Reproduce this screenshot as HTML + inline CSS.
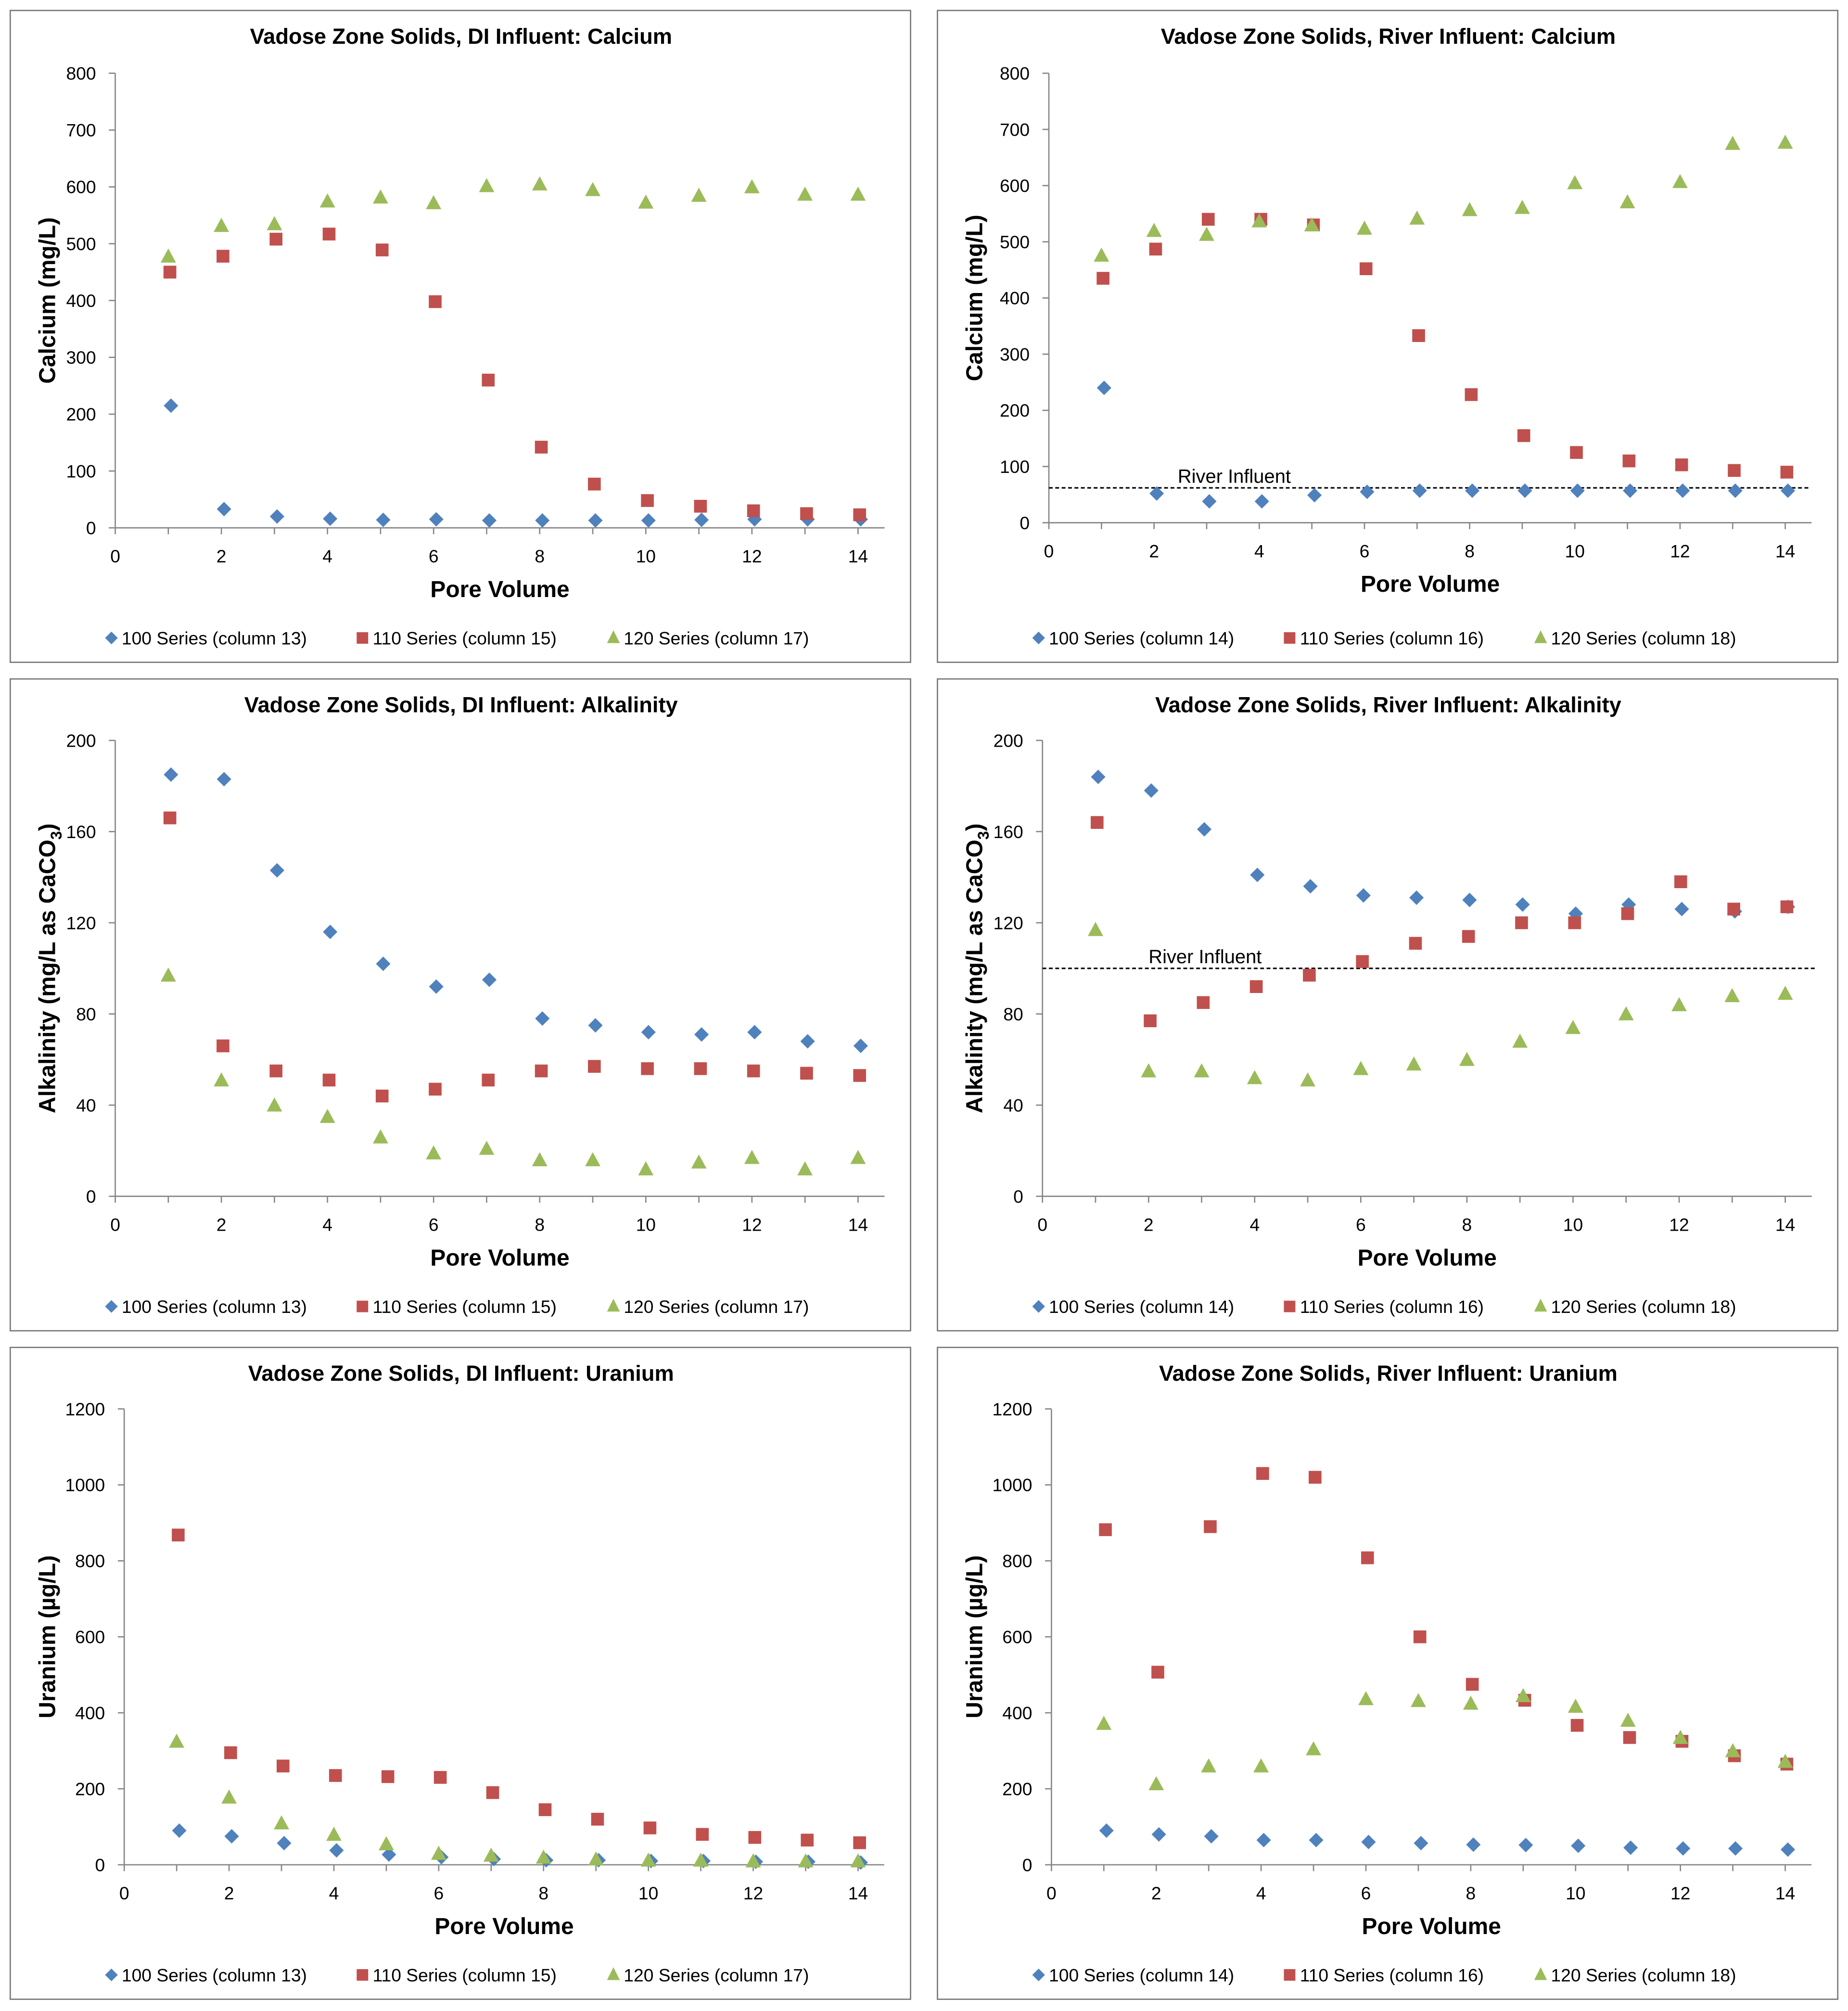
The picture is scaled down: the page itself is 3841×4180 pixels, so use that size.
<!DOCTYPE html>
<html><head><meta charset="utf-8"><style>
html,body{margin:0;padding:0;background:#fff}
svg{display:block}
text{font-family:"Liberation Sans",sans-serif;fill:#000}
</style></head><body>
<svg id="fig" width="3841" height="4180" viewBox="0 0 1443 1570" xmlns="http://www.w3.org/2000/svg"></svg>
<script>
const pv = [1,2,3,4,5,6,7,8,9,10,11,12,13,14];
const xTicks = [0,2,4,6,8,10,12,14];
const ca_di_100 = [215,33,20,16,14,15,13,13,13,13,14,15,15,15];
const ca_di_110 = [450,478,508,517,489,398,260,142,77,48,38,30,25,23];
const ca_di_120 = [478,532,535,575,582,572,602,605,595,573,585,600,587,587];
const ca_rv_100 = [240,52,38,38,49,55,57,57,57,57,57,57,57,57];
const ca_rv_110 = [435,487,540,540,530,452,333,228,155,125,110,103,93,90];
const ca_rv_120 = [476,520,513,537,530,524,542,557,561,605,571,607,675,677];
const al_di_100 = [185,183,143,116,102,92,95,78,75,72,71,72,68,66];
const al_di_110 = [166,66,55,51,44,47,51,55,57,56,56,55,54,53];
const al_di_120 = [97,51,40,35,26,19,21,16,16,12,15,17,12,17];
const al_rv_100 = [184,178,161,141,136,132,131,130,128,124,128,126,125,127];
const al_rv_110 = [164,77,85,92,97,103,111,114,120,120,124,138,126,127];
const al_rv_120 = [117,55,55,52,51,56,58,60,68,74,80,84,88,89];
const u_di_100 = [90,75,57,38,27,20,15,12,12,10,10,8,8,6];
const u_di_110 = [868,295,260,235,232,230,190,145,120,97,80,72,65,58];
const u_di_120 = [325,178,110,80,55,30,25,20,15,12,12,10,10,10];
const u_rv_100 = [90,80,75,65,65,60,57,53,52,50,45,43,43,40];
const u_rv_110 = [882,507,890,1030,1020,808,600,475,433,367,335,325,287,265];
const u_rv_120 = [372,213,260,260,305,437,432,425,445,417,380,335,300,272];
const caTicks = [0,100,200,300,400,500,600,700,800];
const alTicks = [0,40,80,120,160,200];
const uTicks = [0,200,400,600,800,1000,1200];
const caRiver = 62;
const alRiver = 100;

const NS = "http://www.w3.org/2000/svg";
const svg = document.getElementById('fig');
function el(tag, attrs, parent, txt){
  const e = document.createElementNS(NS, tag);
  for (const k in attrs) e.setAttribute(k, attrs[k]);
  if (txt !== undefined) e.textContent = txt;
  (parent || svg).appendChild(e);
  return e;
}
const COL = ['#4F81BD','#C0504D','#9BBB59'];

function chart(cfg){
  const g = el('g', {});
  
  
  const bx = el('rect', {x:cfg.px, y:cfg.py, width:703, height:509, fill:'#fff', stroke:'#777', 'stroke-width':1}, g);
  
  
  const X = v => cfg.x0 + (v/14)*(cfg.x14 - cfg.x0);
  const Y = v => cfg.y0 - (v/cfg.ymax)*(cfg.y0 - cfg.ytop);
  const t = el('text', {x:cfg.px+352, y:cfg.py+26, 'text-anchor':'middle', 'font-size':17, 'font-weight':'bold'}, g, cfg.title);
  
  
  const xr = X(14.5);
  const ya = el('line', {x1:cfg.x0, y1:cfg.ytop, x2:cfg.x0, y2:cfg.y0, stroke:'#868686', 'stroke-width':1}, g);
  
  
  const xa = el('line', {x1:cfg.x0, y1:cfg.y0, x2:xr, y2:cfg.y0, stroke:'#868686', 'stroke-width':1}, g);
  
  
  cfg.yticks.forEach(v => {
    el('line', {x1:cfg.x0-5, y1:Y(v), x2:cfg.x0, y2:Y(v), stroke:'#868686'}, g);
    const tl = el('text', {x:cfg.x0-15, y:Y(v)+5, 'text-anchor':'end', 'font-size':14}, g, v);
    
    
  });
  for (let v = 0; v <= 14.5; v += 1) el('line', {x1:X(v), y1:cfg.y0, x2:X(v), y2:cfg.y0+5, stroke:'#868686'}, g);
  xTicks.forEach(v => {
    const tl = el('text', {x:X(v), y:cfg.y0+27, 'text-anchor':'middle', 'font-size':14}, g, v);
    
    
  });
  const xt = el('text', {x:(cfg.x0+xr)/2, y:cfg.y0+54, 'text-anchor':'middle', 'font-size':18, 'font-weight':'bold'}, g, 'Pore Volume');
  
  
  const cy = (cfg.ytop+cfg.y0)/2;
  const tx = cfg.px+35;
  const yt = el('text', {x:tx, y:cy, 'text-anchor':'middle', 'font-size':18, 'font-weight':'bold', transform:`rotate(-90 ${tx} ${cy})`}, g);
  
  
  if (cfg.alk) {
    el('tspan', {}, yt, 'Alkalinity (mg/L as CaCO');
    el('tspan', {'font-size':12, dy:5}, yt, '3');
    el('tspan', {dy:-5}, yt, ')');
  } else yt.textContent = cfg.ytitle;
  if (cfg.river !== undefined) {
    const rl = el('line', {x1:cfg.x0, y1:Y(cfg.river), x2:cfg.riverEnd, y2:Y(cfg.river), stroke:'#000', 'stroke-width':1.2, 'stroke-dasharray':'3,2'}, g);
    
    
    const rt = el('text', {x:X(cfg.riverLabelX), y:Y(cfg.river)-4, 'font-size':15}, g, 'River Influent');
    
    
  }
  const offs = [0.05, 0.03, 0];
  cfg.series.forEach((s, si) => {
    s.forEach((v, i) => {
      const cx = X(pv[i] + offs[si]), cyy = Y(v);
      let m;
      if (si === 0) m = el('rect', {x:cx-4, y:cyy-4, width:8, height:8, fill:COL[0], transform:`rotate(45 ${cx} ${cyy})`}, g);
      else if (si === 1) m = el('rect', {x:cx-5, y:cyy-5, width:10, height:10, fill:COL[1]}, g);
      else m = el('polygon', {points:`${cx},${cyy-6} ${cx+6},${cyy+5} ${cx-6},${cyy+5}`, fill:COL[2]}, g);
      
      
    });
  });
  const ly = cfg.py + 495;
  const lx = [cfg.px+79, cfg.px+275, cfg.px+471];
  cfg.legend.forEach((lab, si) => {
    const cx = lx[si];
    let m;
    if (si === 0) m = el('rect', {x:cx-3.5, y:ly-8.5, width:7, height:7, fill:COL[0], transform:`rotate(45 ${cx} ${ly-5})`}, g);
    else if (si === 1) m = el('rect', {x:cx-4.5, y:ly-9.5, width:9, height:9, fill:COL[1]}, g);
    else m = el('polygon', {points:`${cx},${ly-11} ${cx+5},${ly-1} ${cx-5},${ly-1}`, fill:COL[2]}, g);
    
    
    const lt = el('text', {x:cx+8, y:ly, 'font-size':14}, g, lab);
    
    
  });
}
const LDI = ['100 Series (column 13)','110 Series (column 15)','120 Series (column 17)'];
const LRV = ['100 Series (column 14)','110 Series (column 16)','120 Series (column 18)'];
chart({name:'chart-di-calcium', px:8, py:8, x0:90, x14:670, y0:412, ytop:57, ymax:800, yticks:caTicks, title:'Vadose Zone Solids, DI Influent: Calcium', ytitle:'Calcium (mg/L)', series:[ca_di_100,ca_di_110,ca_di_120], legend:LDI});
chart({name:'chart-river-calcium', px:732, py:8, x0:819, x14:1394, y0:408, ytop:57, ymax:800, yticks:caTicks, title:'Vadose Zone Solids, River Influent: Calcium', ytitle:'Calcium (mg/L)', series:[ca_rv_100,ca_rv_110,ca_rv_120], legend:LRV, river:caRiver, riverEnd:1413, riverLabelX:2.45});
chart({name:'chart-di-alkalinity', px:8, py:530, x0:90, x14:670, y0:934, ytop:578, ymax:200, yticks:alTicks, title:'Vadose Zone Solids, DI Influent: Alkalinity', alk:true, series:[al_di_100,al_di_110,al_di_120], legend:LDI});
chart({name:'chart-river-alkalinity', px:732, py:530, x0:814, x14:1394, y0:934, ytop:578, ymax:200, yticks:alTicks, title:'Vadose Zone Solids, River Influent: Alkalinity', alk:true, series:[al_rv_100,al_rv_110,al_rv_120], legend:LRV, river:alRiver, riverEnd:1418, riverLabelX:2.0});
chart({name:'chart-di-uranium', px:8, py:1052, x0:97, x14:670, y0:1456, ytop:1100, ymax:1200, yticks:uTicks, title:'Vadose Zone Solids, DI Influent: Uranium', ytitle:'Uranium (\u00b5g/L)', series:[u_di_100,u_di_110,u_di_120], legend:LDI});
chart({name:'chart-river-uranium', px:732, py:1052, x0:821, x14:1394, y0:1456, ytop:1100, ymax:1200, yticks:uTicks, title:'Vadose Zone Solids, River Influent: Uranium', ytitle:'Uranium (\u00b5g/L)', series:[u_rv_100,u_rv_110,u_rv_120], legend:LRV});
</script>
</body></html>
